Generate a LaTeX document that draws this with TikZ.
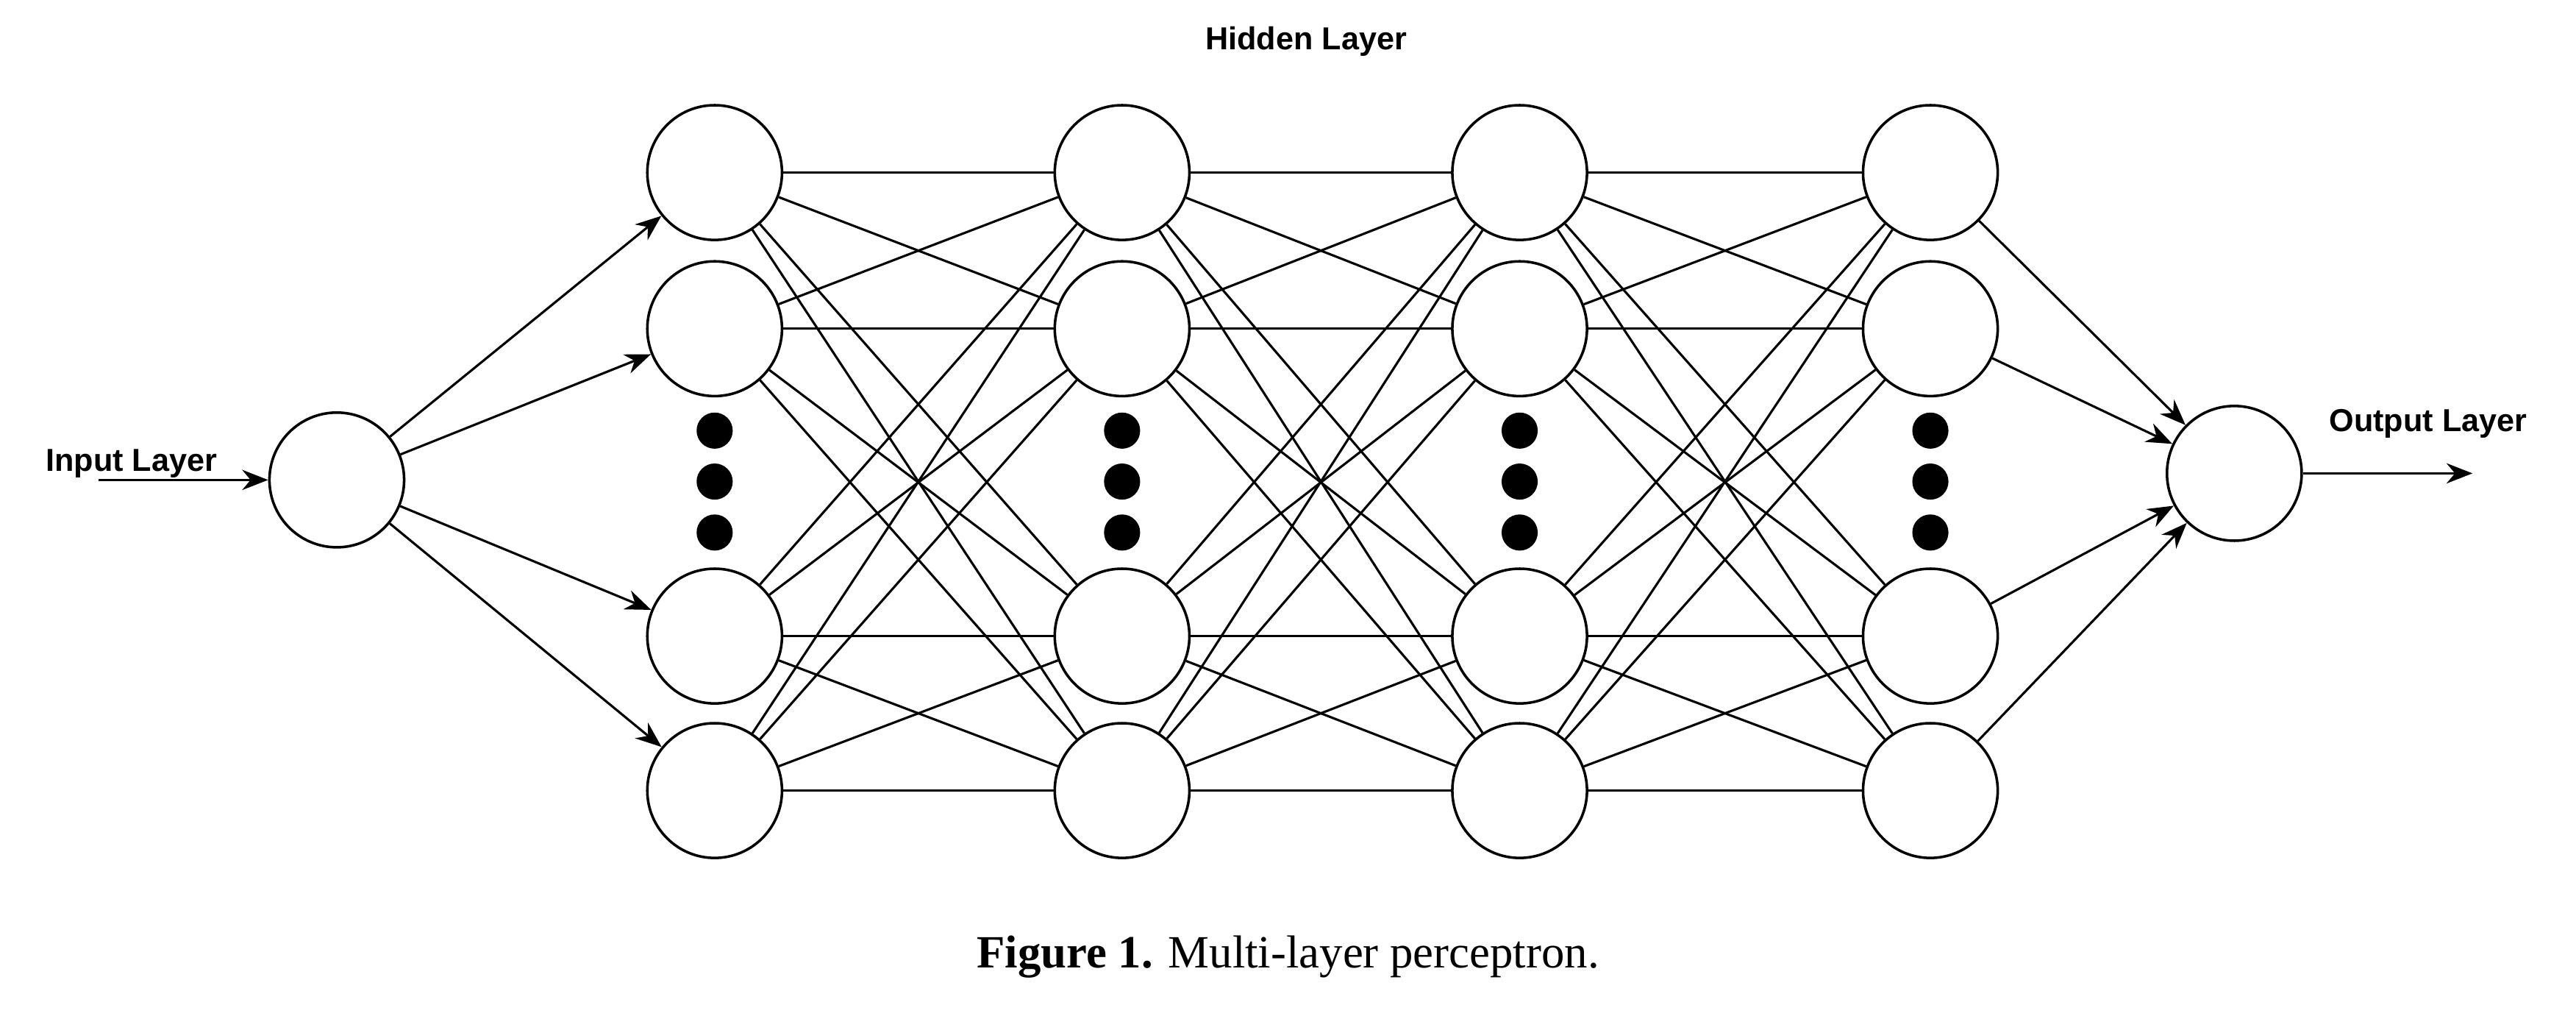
\documentclass[tikz,border=0pt]{standalone}
\usepackage{fontspec}
\setmainfont{Liberation Serif}
\newfontfamily\lab{Liberation Sans}
\usetikzlibrary{arrows.meta}
\begin{document}
\begin{tikzpicture}[x=0.02cm,y=-0.02cm,
  neuron/.style={circle,draw,line width=0.9pt,minimum size=1.64cm,inner sep=0pt},
  dot/.style={circle,fill=black,minimum size=0.44cm,inner sep=0pt},
  link/.style={line width=0.8pt},
  arr/.style={line width=0.8pt,-{Stealth[length=9pt,width=7pt]}},
  lbl/.style={font=\lab\bfseries\fontsize{11}{13}\selectfont}]
\useasboundingbox (0,0) rectangle (1568,618);
\node[neuron] (in) at (205,292) {};
\node[neuron] (out) at (1360,288) {};
\foreach \l/\x in {1/435,2/683,3/925,4/1175}{
  \foreach \r/\y in {1/105,2/200,3/387,4/481}{
    \node[neuron] (h\l\r) at (\x,\y) {};
  }
  \foreach \d/\y in {a/262,b/293,c/324}{\node[dot] (d\l\d) at (\x,\y) {};}
}
\foreach \l/\m in {1/2,2/3,3/4}{
  \foreach \r in {1,...,4}{\foreach \s in {1,...,4}{\draw[link] (h\l\r) -- (h\m\s);}}
}
\foreach \r in {1,...,4}{\draw[arr] (in) -- (h1\r); \draw[arr] (h4\r) -- (out);}
\coordinate (is) at (60,292);
\coordinate (oe) at (1505,288);
\draw[arr] (is) -- (in);
\draw[arr] (out) -- (oe);
\node[lbl] (il) at (80,282) {Input Layer};
\node[lbl] (ol) at (1478,258) {Output Layer};
\node[lbl] (hl) at (795,25) {Hidden Layer};
\node[font=\fontsize{16}{19}\selectfont] (cap) at (784,582) {\textbf{Figure 1.} Multi-layer perceptron.};
\end{tikzpicture}
\end{document}
